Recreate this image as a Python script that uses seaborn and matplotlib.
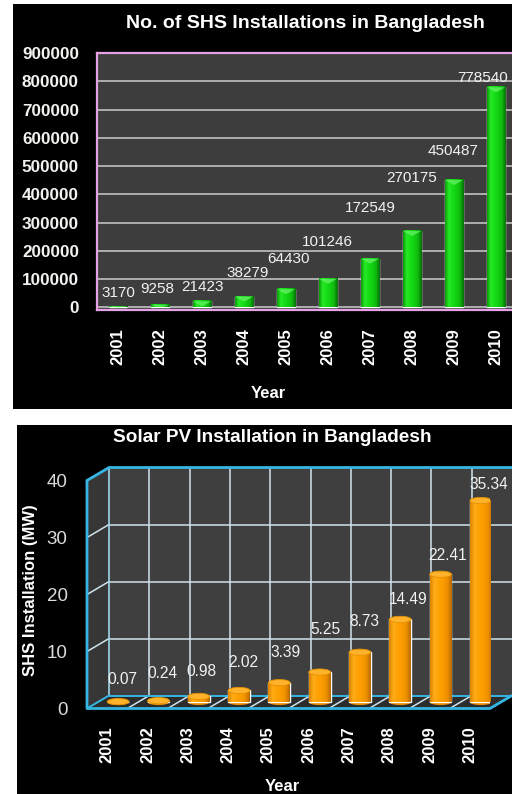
import numpy as np
import pandas as pd
import matplotlib
matplotlib.use("Agg")
import matplotlib.pyplot as plt
import seaborn as sns
from matplotlib.patches import Rectangle, Polygon, Ellipse
from matplotlib.colors import LinearSegmentedColormap
from matplotlib.ticker import StrMethodFormatter

years = ["2001", "2002", "2003", "2004", "2005", "2006", "2007", "2008", "2009", "2010"]
shs_counts = [3170, 9258, 21423, 38279, 64430, 101246, 172549, 270175, 450487, 778540]
pv_mw = [0.07, 0.24, 0.98, 2.02, 3.39, 5.25, 8.73, 14.49, 22.41, 35.34]
shs_ticks = [0, 100000, 200000, 300000, 400000, 500000, 600000, 700000, 800000, 900000]
mw_ticks = [0, 10, 20, 30, 40]

# label nudges (pixels) as placed in the original
shs_label_dx = [0, -3, 0, 4, 3, -1, 0, 0, -1, -13]
shs_label_dy = [14, 16, 14, 24, 30, 37, 51, 53, 29, 9]
mw_label_dx = [4, 4, 3, 4, 6, 6, 4, 8, 7, 8]
mw_label_dy = [22, 27, 25, 28, 30, 43, 31, 20, 19, 16]

sns.set_theme(style="dark")
plt.rcParams['font.family'] = ['Liberation Sans', 'DejaVu Sans']

W, H = 512, 794
fig = plt.figure(figsize=(W / 100, H / 100), dpi=100, facecolor='white')


def box(l, t, r, b):
    return [l / W, 1 - b / H, (r - l) / W, (b - t) / H]


for l, t, r, b in [(13, 4, 512, 409), (17, 425, 512, 794)]:
    fig.add_artist(Rectangle((l / W, 1 - b / H), (r - l) / W, (b - t) / H,
                             transform=fig.transFigure, facecolor='black',
                             edgecolor='none', zorder=-1))

grad = np.linspace(0, 1, 64).reshape(1, -1)

# ---------------- top chart: number of SHS installations ----------------
ax1 = fig.add_axes(box(97, 53, 517, 310))
df1 = pd.DataFrame({'Year': years, 'Count': shs_counts})
sns.barplot(data=df1, x='Year', y='Count', ax=ax1, color='#14dc14',
            width=0.43, saturation=1)
bars1 = list(ax1.patches)
ax1.set_facecolor('#3d3d3d')
ax1.set_xlim(-0.5, 9.5)
ax1.set_ylim(-9000, 900000)

green = LinearSegmentedColormap.from_list(
    'green', ['#0b9c0b', '#26ea26', '#16de16', '#12d012', '#0fb80f', '#077007'])
cap_h = 5 * (900000 + 9000) / 257  # ~5 px roof on each bar
for i, bar in enumerate(bars1):
    x0, w, h = bar.get_x(), bar.get_width(), bar.get_height()
    bar.set_zorder(2)
    ax1.imshow(grad, cmap=green, extent=[x0, x0 + w, 0, h], aspect='auto', zorder=2.1)
    ch = min(cap_h, h)
    ax1.add_patch(Polygon([(x0, h), (x0 + w, h), (x0 + w / 2, h - ch)],
                          facecolor='#62f062', edgecolor='none', alpha=0.8, zorder=2.2))
    ax1.annotate(str(shs_counts[i]), xy=(x0 + w / 2, h),
                 xytext=(shs_label_dx[i], shs_label_dy[i]), textcoords='offset pixels',
                 ha='center', va='center', color='#f2f2f2', fontsize=11, zorder=3)

ax1.set_xlim(-0.5, 9.5)
ax1.set_ylim(-9000, 900000)
ax1.set_yticks(shs_ticks)
ax1.yaxis.set_major_formatter(StrMethodFormatter('{x:.0f}'))
ax1.yaxis.grid(True, color='#cdcdcd', linewidth=1.1)
ax1.xaxis.grid(False)
ax1.tick_params(axis='y', length=0, pad=13, labelsize=12.3, labelcolor='#f2f2ee')
ax1.tick_params(axis='x', length=0, pad=13, labelsize=12, labelrotation=90, labelcolor='white')
for lab in ax1.get_yticklabels() + ax1.get_xticklabels():
    lab.set_fontweight('bold')
for s in ax1.spines.values():
    s.set_color('#e6a0e6')
    s.set_linewidth(1.6)
ax1.set_ylabel('')
ax1.set_xlabel('Year', fontsize=12, fontweight='bold', color='white')
ax1.xaxis.set_label_coords(0.407, -0.296)
fig.text(305 / W, 1 - 23 / H, 'No. of SHS Installations in Bangladesh', ha='center',
         va='center', fontsize=14, fontweight='bold', color='white')

# ---------------- bottom chart: solar PV installation (pseudo 3D) ----------------
ax2 = fig.add_axes(box(87, 480.5, 490, 708.5))
df2 = pd.DataFrame({'Year': years, 'MW': pv_mw})
sns.barplot(data=df2, x='Year', y='MW', ax=ax2, color='#ffa000',
            width=0.54, saturation=1)
bars2 = list(ax2.patches)
ax2.set_facecolor('none')
for s in ax2.spines.values():
    s.set_visible(False)

DXM, DYM = 0.273, 1.14       # half depth (bars sit here)
DXB, DYB = 2 * DXM, 2 * DYM  # back wall
cyan = '#36b6e2'
light = '#cfe4ec'
top_v = mw_ticks[-1]
n = len(years)
L, R = -0.5, n - 0.5

ax2.add_patch(Polygon([(L, 0), (L, top_v), (L + DXB, top_v + DYB), (L + DXB, DYB)],
                      facecolor='#363636', edgecolor='none', zorder=0.2, clip_on=False))
ax2.add_patch(Polygon([(L, 0), (R, 0), (R + DXB, DYB), (L + DXB, DYB)],
                      facecolor='#2c2c2c', edgecolor='none', zorder=0.2, clip_on=False))
ax2.add_patch(Rectangle((L + DXB, DYB), R - L, top_v, facecolor='#3f3f3f',
                        edgecolor='none', zorder=0.2, clip_on=False))
for v in mw_ticks[1:-1]:
    ax2.plot([L + DXB, R + DXB], [v + DYB, v + DYB], color=light, lw=1.1, zorder=0.5, clip_on=False)
    ax2.plot([L, L + DXB], [v, v + DYB], color=light, lw=1.1, zorder=0.5, clip_on=False)
for k in range(1, n):
    ax2.plot([k - 0.5 + DXB] * 2, [DYB, top_v + DYB], color=light, lw=1.1, zorder=0.5, clip_on=False)
    ax2.plot([k - 0.5, k - 0.5 + DXB], [0, DYB], color=light, lw=1.1, zorder=0.5, clip_on=False)
ax2.plot([L + DXB] * 2, [DYB, top_v + DYB], color='#9fd6ea', lw=1.2, zorder=0.6, clip_on=False)
ax2.plot([L + DXB, R + DXB], [DYB, DYB], color=cyan, lw=1.4, zorder=0.6, clip_on=False)
ax2.plot([L, L + DXB, R + DXB + 1], [top_v, top_v + DYB, top_v + DYB], color=cyan, lw=2,
         zorder=0.7, clip_on=False)
ax2.plot([L, L, R, R + DXB], [top_v, 0, 0, DYB], color=cyan, lw=2, zorder=0.7, clip_on=False)
ax2.plot([L, L + DXB], [0, DYB], color=cyan, lw=1.4, zorder=0.7, clip_on=False)

orange = LinearSegmentedColormap.from_list(
    'orange', ['#dc8400', '#ffac18', '#ffa204', '#fb9c00', '#ee9000', '#b86800'])
for i, bar in enumerate(bars2):
    bar.set_x(bar.get_x() + DXM)
    bar.set_y(DYM)
    bar.set_zorder(2)
    x0, w, h = bar.get_x(), bar.get_width(), bar.get_height()
    cx = x0 + w / 2
    ax2.imshow(grad, cmap=orange, extent=[x0, x0 + w, DYM, DYM + h], aspect='auto', zorder=2.1)
    ax2.add_patch(Ellipse((cx, DYM), w, 1.1, facecolor='#e48a00', edgecolor='none', zorder=1.5))
    ax2.add_patch(Ellipse((cx, DYM + h), w, 1.1, facecolor='#ffb22a', edgecolor='#e49200',
                          lw=0.6, zorder=2.2))
    ax2.annotate(f"{pv_mw[i]:.2f}", xy=(cx, DYM + h),
                 xytext=(mw_label_dx[i], mw_label_dy[i]), textcoords='offset pixels',
                 ha='center', va='center', color='#f2f2f2', fontsize=11.2, zorder=3)

ax2.set_xlim(L, R)
ax2.set_ylim(0, top_v)
ax2.set_yticks(mw_ticks)
ax2.grid(False)
ax2.tick_params(axis='y', length=0, pad=14, labelsize=13.5, labelcolor='#dadada')
ax2.tick_params(axis='x', length=0, pad=13, labelsize=12, labelrotation=90, labelcolor='white')
for lab in ax2.get_xticklabels():
    lab.set_fontweight('bold')
ax2.set_xlabel('Year', fontsize=12, fontweight='bold', color='white')
ax2.xaxis.set_label_coords(0.484, -0.309)
ax2.set_ylabel('SHS Installation (MW)', fontsize=12, fontweight='bold', color='white')
ax2.yaxis.set_label_coords(-0.122, 0.52)
fig.text(272 / W, 1 - 438 / H, 'Solar PV Installation in Bangladesh', ha='center',
         va='center', fontsize=13.7, fontweight='bold', color='white')

fig.savefig('out.png', dpi=100, facecolor='white')
